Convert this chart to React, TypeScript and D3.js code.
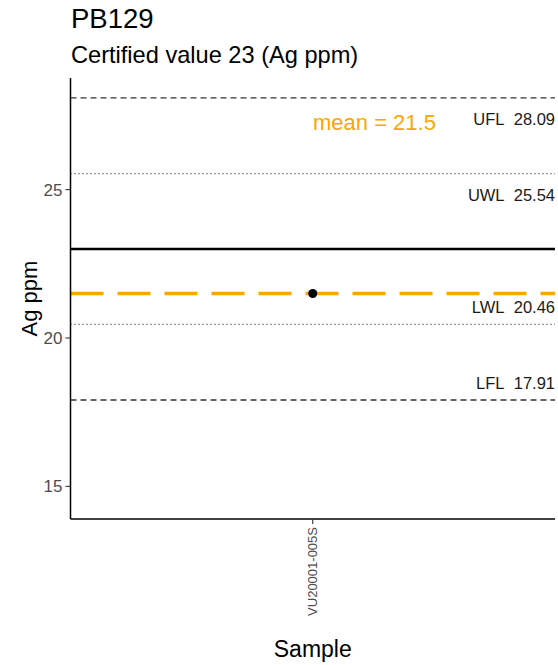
import React from "react";
import * as d3 from "d3";

const title = "PB129";
const subtitle = "Certified value 23 (Ag ppm)";
const samples = ["VU20001-005S"];
const values = [21.5];
const certified = 23;
const meanValue = 21.5;
const limitNames = ["UFL", "UWL", "LWL", "LFL"];
const limitValues = [28.09, 25.54, 20.46, 17.91];
const limitKinds = ["dashed", "dotted", "dotted", "dashed"];
const yTicks = [15, 20, 25];

const W = 558;
const H = 665;
const FONT = "'Liberation Sans', Arial, sans-serif";

export default function App() {
  const left = 70.5;
  const right = 555;
  const top = 78;
  const bottom = 519;
  const y = d3.scaleLinear().domain([13.9, 28.76]).range([bottom, top]);
  const x = d3.scaleBand().domain(samples).range([left, right]);
  const xc = (s: string) => (x(s) as number) + x.bandwidth() / 2;

  const labelOffset = (i: number) => (i < 2 ? 27 : -11);

  return (
    <svg width={W} height={H} style={{ position: "absolute", left: 0, top: 0, background: "#fff" }}>
      <rect x={0} y={0} width={W} height={H} fill="#fff" />
      <text x={71} y={28} fontFamily={FONT} fontSize={27.5} fill="#000">{title}</text>
      <text x={71} y={63} fontFamily={FONT} fontSize={23.6} fill="#000">{subtitle}</text>

      {limitValues.map((v, i) => (
        <line
          key={"l" + i}
          x1={left}
          x2={right}
          y1={y(v)}
          y2={y(v)}
          stroke="#333"
          strokeWidth={limitKinds[i] === "dashed" ? 1.3 : 1.2}
          strokeDasharray={limitKinds[i] === "dashed" ? "6,4" : "1,3"}
        />
      ))}
      {limitValues.map((v, i) => (
        <text
          key={"t" + i}
          x={555}
          y={y(v) + labelOffset(i)}
          textAnchor="end"
          fontFamily={FONT}
          fontSize={16.5}
          fill="#1a1a1a"
        >
          {limitNames[i] + "\u00a0\u00a0" + limitValues[i].toFixed(2)}
        </text>
      ))}

      <line x1={left} x2={right} y1={y(certified)} y2={y(certified)} stroke="#000" strokeWidth={2.5} />

      <line
        x1={left}
        x2={right}
        y1={y(meanValue)}
        y2={y(meanValue)}
        stroke="#FFA500"
        strokeWidth={3.5}
        strokeDasharray="33,14"
      />
      <text x={313} y={130} fontFamily={FONT} fontSize={22} fill="#FFA500">
        {"mean = " + meanValue}
      </text>

      {samples.map((s, i) => (
        <circle key={s} cx={xc(s)} cy={y(values[i])} r={4.5} fill="#000" />
      ))}

      <line x1={left} x2={left} y1={top} y2={bottom} stroke="#000" strokeWidth={1.5} />
      <line x1={left} x2={right} y1={bottom} y2={bottom} stroke="#000" strokeWidth={1.5} />

      {yTicks.map((t) => (
        <g key={t}>
          <line x1={left - 5} x2={left} y1={y(t)} y2={y(t)} stroke="#333" strokeWidth={1.1} />
          <text x={left - 8} y={y(t)} dy="0.36em" textAnchor="end" fontFamily={FONT} fontSize={17} fill="#4d4d4d">
            {t}
          </text>
        </g>
      ))}
      {samples.map((s) => (
        <g key={"x" + s}>
          <line x1={xc(s)} x2={xc(s)} y1={bottom} y2={bottom + 5} stroke="#333" strokeWidth={1.1} />
          <text
            transform={`translate(${xc(s)},${bottom + 8}) rotate(-90)`}
            dy="0.35em"
            textAnchor="end"
            fontFamily={FONT}
            fontSize={13}
            fill="#4d4d4d"
          >
            {s}
          </text>
        </g>
      ))}

      <text x={xc(samples[0])} y={657} textAnchor="middle" fontFamily={FONT} fontSize={23} fill="#000">
        Sample
      </text>
      <text
        transform={`translate(37,${(top + bottom) / 2}) rotate(-90)`}
        textAnchor="middle"
        fontFamily={FONT}
        fontSize={22}
        fill="#000"
      >
        Ag ppm
      </text>
    </svg>
  );
}
